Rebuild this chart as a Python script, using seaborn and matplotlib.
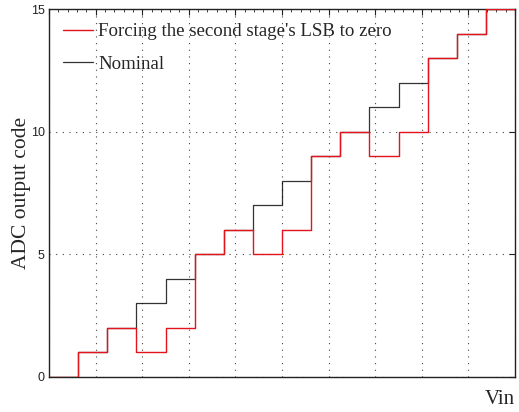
import matplotlib
matplotlib.use("Agg")
import matplotlib.pyplot as plt
from matplotlib.ticker import MultipleLocator, NullFormatter, NullLocator
import seaborn as sns
import pandas as pd

# Output codes of a 4-bit ADC, one per input interval
nominal_codes = [0, 1, 2, 3, 4, 5, 6, 7, 8, 9, 10, 11, 12, 13, 14, 15]
forced_codes = [0, 1, 2, 1, 2, 5, 6, 5, 6, 9, 10, 9, 10, 13, 14, 15]
vin_span = 10.0
y_ticks = [0, 5, 10, 15]

step = vin_span / len(nominal_codes)
edges = [i * step for i in range(len(nominal_codes) + 1)]

def stair_frame(codes, name):
    return pd.DataFrame({"Vin": edges, "code": list(codes) + [codes[-1]], "series": name})

sns.set_style("white")
fig = plt.figure(figsize=(5.19, 4.12), dpi=100)
ax = fig.add_axes([0.0944, 0.085, 0.898, 0.893])

nom = stair_frame(nominal_codes, "Nominal")
frc = stair_frame(forced_codes, "Forcing the second stage's LSB to zero")

sns.lineplot(data=frc, x="Vin", y="code", ax=ax, color="#e3141c", lw=1.0,
             drawstyle="steps-post", estimator=None, label="Forcing the second stage's LSB to zero", zorder=3)
sns.lineplot(data=nom, x="Vin", y="code", ax=ax, color="black", lw=0.9, alpha=0.8,
             drawstyle="steps-post", estimator=None, label="Nominal", zorder=2)

ax.set_xlim(0, vin_span)
ax.set_ylim(0, 15)
ax.set_yticks(y_ticks)
ax.xaxis.set_major_locator(MultipleLocator(1))
ax.xaxis.set_minor_locator(MultipleLocator(0.2))
ax.xaxis.set_major_formatter(NullFormatter())
ax.yaxis.set_minor_locator(NullLocator())
ax.tick_params(axis="both", which="major", direction="in", length=4, width=0.8,
               top=True, right=True, labelsize=9, pad=3, colors="#222222")
ax.tick_params(axis="both", which="minor", direction="in", length=2, width=0.6,
               top=True, right=True)
for lab in ax.get_yticklabels():
    lab.set_family("Liberation Sans")
ax.grid(True, which="major", linestyle=(0, (1, 5)), color="#444444", lw=0.8)
for s in ax.spines.values():
    s.set_color("#222222")
    s.set_linewidth(1.0)

ax.set_ylabel("ADC output code", family="Liberation Serif", fontsize=15.5, labelpad=0)
ax.set_xlabel("Vin", family="Liberation Serif", fontsize=15, loc="right", labelpad=6)

handles, labels = ax.get_legend_handles_labels()
leg = ax.legend(handles[:2], labels[:2], loc="upper left", frameon=False,
                prop={"family": "Liberation Serif", "size": 13.6},
                handlelength=1.6, handletextpad=0.25, labelspacing=0.8,
                bbox_to_anchor=(0.0, 1.0), borderaxespad=0.35)

fig.savefig("out.png", dpi=100)
